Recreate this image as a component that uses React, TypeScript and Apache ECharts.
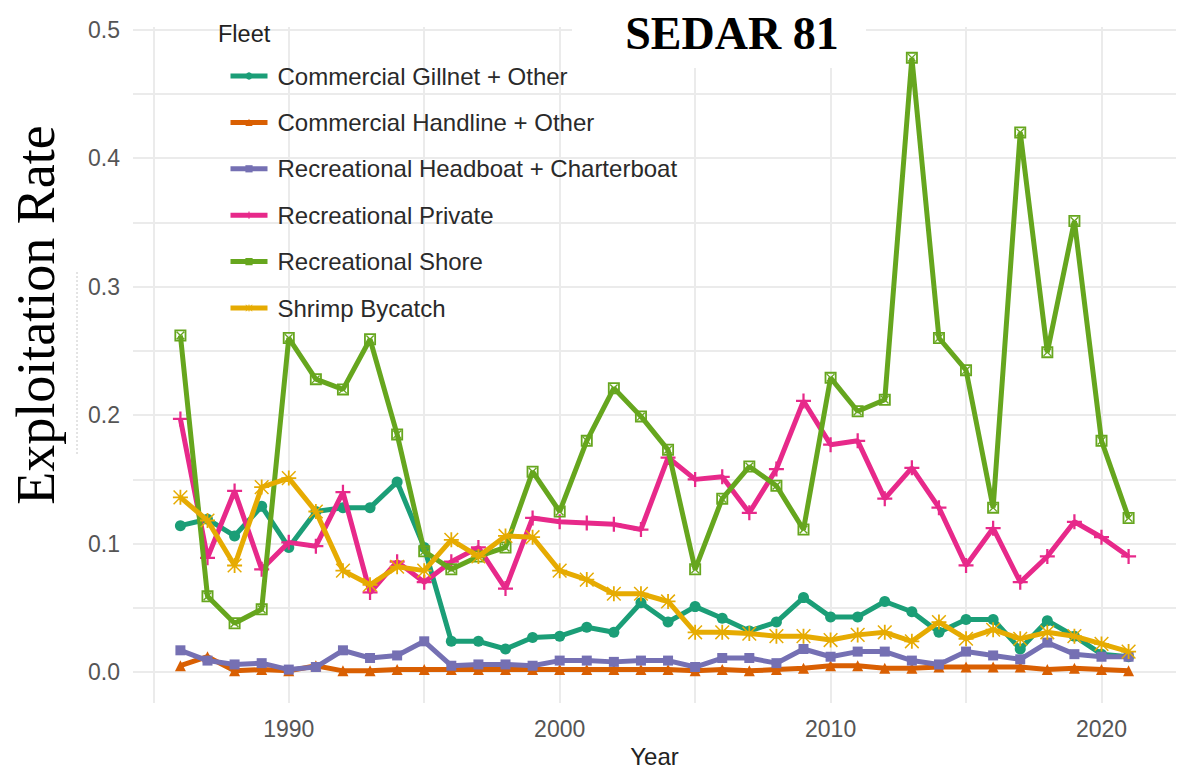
import React, { useEffect, useRef } from "react";
import * as echarts from "echarts";

// Exploitation rate by fleet, 1986-2021
const years = [
  1986, 1987, 1988, 1989, 1990, 1991, 1992, 1993, 1994, 1995,
  1996, 1997, 1998, 1999, 2000, 2001, 2002, 2003, 2004, 2005,
  2006, 2007, 2008, 2009, 2010, 2011, 2012, 2013, 2014, 2015,
  2016, 2017, 2018, 2019, 2020, 2021,
];

const commercialGillnet = [
  0.114, 0.119, 0.106, 0.129, 0.097, 0.125, 0.128, 0.128, 0.148, 0.097,
  0.024, 0.024, 0.018, 0.027, 0.028, 0.035, 0.031, 0.054, 0.039, 0.051,
  0.042, 0.032, 0.039, 0.058, 0.043, 0.043, 0.055, 0.047, 0.031, 0.041,
  0.041, 0.018, 0.040, 0.028, 0.014, 0.012,
];
const commercialHandline = [
  0.005, 0.012, 0.001, 0.002, 0.001, 0.005, 0.001, 0.001, 0.002, 0.002,
  0.002, 0.002, 0.002, 0.002, 0.002, 0.002, 0.002, 0.002, 0.002, 0.001,
  0.002, 0.001, 0.002, 0.003, 0.005, 0.005, 0.003, 0.003, 0.004, 0.004,
  0.004, 0.004, 0.002, 0.003, 0.002, 0.001,
];
const recHeadboat = [
  0.017, 0.009, 0.006, 0.007, 0.002, 0.004, 0.017, 0.011, 0.013, 0.024,
  0.005, 0.006, 0.006, 0.005, 0.009, 0.009, 0.008, 0.009, 0.009, 0.004,
  0.011, 0.011, 0.007, 0.018, 0.012, 0.016, 0.016, 0.009, 0.006, 0.016,
  0.013, 0.010, 0.023, 0.014, 0.012, 0.012,
];
const recPrivate = [
  0.197, 0.089, 0.141, 0.080, 0.101, 0.098, 0.140, 0.062, 0.086, 0.070,
  0.086, 0.097, 0.065, 0.120, 0.117, 0.116, 0.115, 0.111, 0.167, 0.150,
  0.152, 0.124, 0.158, 0.211, 0.177, 0.180, 0.135, 0.159, 0.128, 0.083,
  0.112, 0.070, 0.090, 0.117, 0.105, 0.090,
];
const recShore = [
  0.262, 0.059, 0.038, 0.049, 0.260, 0.228, 0.220, 0.259, 0.185, 0.094,
  0.080, 0.090, 0.097, 0.156, 0.125, 0.180, 0.221, 0.199, 0.173, 0.080,
  0.135, 0.160, 0.145, 0.111, 0.229, 0.203, 0.212, 0.478, 0.260, 0.235,
  0.128, 0.420, 0.249, 0.351, 0.180, 0.120,
];
const shrimpBycatch = [
  0.136, 0.118, 0.083, 0.144, 0.151, 0.125, 0.079, 0.068, 0.082, 0.079,
  0.103, 0.090, 0.106, 0.105, 0.079, 0.072, 0.061, 0.061, 0.055, 0.031,
  0.031, 0.030, 0.028, 0.028, 0.025, 0.029, 0.031, 0.024, 0.039, 0.026,
  0.033, 0.026, 0.031, 0.028, 0.022, 0.016,
];

const fleetNames = [
  "Commercial Gillnet + Other",
  "Commercial Handline + Other",
  "Recreational Headboat + Charterboat",
  "Recreational Private",
  "Recreational Shore",
  "Shrimp Bycatch",
];
const fleetValues = [
  commercialGillnet,
  commercialHandline,
  recHeadboat,
  recPrivate,
  recShore,
  shrimpBycatch,
];
const fleetColors = ["#1B9E77", "#D95F02", "#7570B3", "#E7298A", "#66A61E", "#E6AB02"];

// Tick positions
const xGridTicks = [1985, 1990, 1995, 2000, 2005, 2010, 2015, 2020];
const xLabelTicks = [1990, 2000, 2010, 2020];
const yGridTicks = [0, 0.05, 0.1, 0.15, 0.2, 0.25, 0.3, 0.35, 0.4, 0.45, 0.5];
const yLabelTicks = [0, 0.1, 0.2, 0.3, 0.4, 0.5];

// Point shapes
const plusPath = "path://M8.5,0H11.5V8.5H20V11.5H11.5V20H8.5V11.5H0V8.5H8.5Z";
const squareCrossPath =
  "path://M0,0H20V20H0Z M3,3V17H17V3Z M3,4.6L4.6,3L17,15.4L15.4,17Z M15.4,3L17,4.6L4.6,17L3,15.4Z";
const asteriskPath =
  "path://M8.8,0H11.2V8.8H20V11.2H11.2V20H8.8V11.2H0V8.8H8.8Z M1.6,0.2L19.8,18.4L18.4,19.8L0.2,1.6Z M18.4,0.2L19.8,1.6L1.6,19.8L0.2,18.4Z";
const fleetSymbols = ["circle", "triangle", "rect", plusPath, squareCrossPath, asteriskPath];
const fleetSymbolSizes = [11, 11, 10, 15, 12, 15];

const sans = "'Liberation Sans', Arial, Helvetica, sans-serif";
const serif = "'Liberation Serif', 'Times New Roman', Times, serif";

export default function App() {
  const ref = useRef<HTMLDivElement>(null);

  useEffect(() => {
    if (!ref.current) return;
    const chart = echarts.init(ref.current, null, { renderer: "svg" });

    const series = fleetNames.map((name, i) => ({
      name,
      type: "line",
      data: years.map((y, j) => [y, fleetValues[i][j]]),
      symbol: fleetSymbols[i],
      symbolSize: fleetSymbolSizes[i],
      showSymbol: true,
      lineStyle: { color: fleetColors[i], width: 5 },
      itemStyle: { color: fleetColors[i] },
      emphasis: { disabled: true },
      z: 2 + i,
    }));

    chart.setOption({
      animation: false,
      backgroundColor: "#ffffff",
      grid: {
        left: 133,
        right: 8,
        top: 27,
        bottom: 63,
        containLabel: false,
        outerBoundsMode: "none",
      },
      xAxis: {
        type: "value",
        min: 1984.25,
        max: 2022.75,
        name: "Year",
        nameLocation: "middle",
        nameGap: 36,
        nameTextStyle: { fontFamily: sans, fontSize: 24, lineHeight: 24, color: "#222222" },
        axisLine: { show: false },
        axisTick: { show: false, customValues: xGridTicks },
        axisLabel: {
          customValues: xLabelTicks,
          formatter: (v: number) => String(v),
          fontFamily: sans,
          fontSize: 23,
          color: "#555555",
          margin: 14,
        },
        splitLine: { show: true, lineStyle: { color: "#ebebeb", width: 2 } },
      },
      yAxis: {
        type: "value",
        min: -0.024,
        max: 0.502,
        axisLine: { show: false },
        axisTick: { show: false, customValues: yGridTicks },
        axisLabel: {
          customValues: yLabelTicks,
          formatter: (v: number) => v.toFixed(1),
          fontFamily: sans,
          fontSize: 23,
          color: "#555555",
          margin: 13,
        },
        splitLine: { show: true, lineStyle: { color: "#ebebeb", width: 2 } },
      },
      legend: {
        orient: "vertical",
        left: 223,
        top: 59,
        itemWidth: 37,
        itemHeight: 9,
        itemGap: 22.4,
        data: fleetNames,
        selectedMode: false,
        lineStyle: { width: 5 },
        textStyle: {
          fontFamily: sans,
          fontSize: 24,
          color: "#2a2a2a",
          lineHeight: 24,
          padding: [0, 0, 0, 5],
        },
      },
      graphic: [
        {
          type: "text",
          left: 218,
          top: 22,
          z: 20,
          style: { text: "Fleet", font: `23.5px ${sans}`, fill: "#222222" },
        },
        {
          type: "rect",
          shape: { x: 572, y: 0, width: 294, height: 68 },
          style: { fill: "#ffffff" },
          z: 10,
        },
        {
          type: "text",
          x: 732,
          y: 33,
          style: {
            text: "SEDAR 81",
            font: `bold 46px ${serif}`,
            fill: "#000000",
            align: "center",
            verticalAlign: "middle",
          },
          z: 11,
        },
        {
          type: "line",
          shape: { x1: 77, y1: 272, x2: 77, y2: 456 },
          style: { stroke: "#c8c8c8", lineWidth: 1, lineDash: [2, 2] },
          z: 10,
        },
        {
          type: "text",
          x: 36,
          y: 315,
          rotation: Math.PI / 2,
          style: {
            text: "Exploitation Rate",
            font: `54px ${serif}`,
            fill: "#000000",
            align: "center",
            verticalAlign: "middle",
          },
          z: 11,
        },
      ],
      series,
    });

    return () => chart.dispose();
  }, []);

  return (
    <div
      ref={ref}
      style={{ position: "fixed", left: 0, top: 0, width: 1184, height: 766 }}
    />
  );
}
